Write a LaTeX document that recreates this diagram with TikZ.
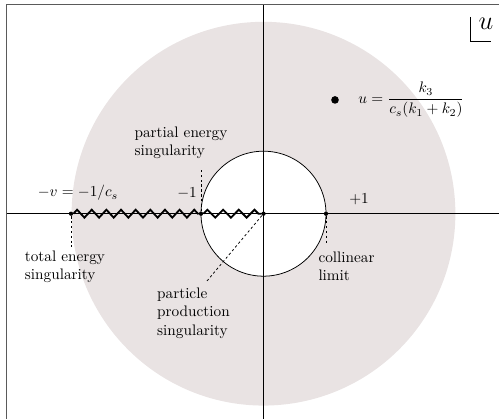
\documentclass[tikz,border=0pt]{standalone}
\usepackage{amsmath,amssymb}
\usepackage{tikz}
\usetikzlibrary{decorations.pathmorphing,positioning}
\usepackage{xcolor}
\definecolor{discgray}{HTML}{E9E3E3}
\definecolor{framegray}{HTML}{5A5A5A}

\begin{document}
\begin{tikzpicture}[
  x=1.44cm, y=1.44cm,
  frameline/.style={draw=framegray, line width=0.7pt},
  axis/.style={draw=black, line width=0.6pt},
  dot/.style={circle, fill=black, inner sep=0pt, minimum size=2.8pt},
  bigdot/.style={circle, fill=black, inner sep=0pt, minimum size=5pt},
  cut/.style={line width=1.2pt, decorate, decoration={zigzag, amplitude=2.6pt, segment length=#1}},
  guide/.style={dash pattern=on 1.6pt off 1.6pt, line width=0.5pt},
  label/.style={align=left, font=\normalsize}
]
\useasboundingbox (-4.216,-3.285) rectangle (3.768,3.419);

% frame and regions
\draw[frameline] (-4.11,-3.285) |- (3.768,3.34);
\fill[discgray] (0,0) circle (3.07);
\draw[fill=white, line width=0.5pt] (0,0) circle (1);

% axes
\draw[axis] (-4.11,0) -- (3.768,0);
\draw[axis] (0,-3.285) -- (0,3.34);

% points on the real line
\node[dot] (mv) at (-3.08,0) {};
\node[dot] (mone) at (-1,0) {};
\node[dot] (zero) at (0,0) {};
\node[dot] (pone) at (1,0) {};
\node[bigdot] (upt) at (1.144,1.82) {};

% branch cut
\draw[cut=9.6pt] (mv) -- (mone);
\draw[cut=10.3pt] (mone) -- (zero);

% labels
\node[label] (vlabel) at (-2.968,0.33) {$-v=-1/c_s$};
\node[label] (mlabel) at (-1.224,0.33) {$-1$};
\node[label] (plabel) at (1.528,0.235) {$+1$};
\node[right=3.2mm of upt] (ulabel) {$u=\dfrac{k_3}{c_s(k_1+k_2)}$};
\node[font=\LARGE] (uvar) at (3.56,3.03) {$u$};
\draw[line width=0.5pt] (3.31,3.15) |- (3.64,2.763);

\node[label] (partial) at (-1.32,1.139) {partial energy\\singularity};
\node[label] (total) at (-3.176,-0.845) {total energy\\singularity};
\node[label] (particle) at (-1.12,-1.589) {particle\\production\\singularity};
\node[label] (collinear) at (1.328,-0.845) {collinear\\limit};

% guides to the labels
\coordinate (partialend) at (-1,0.73);
\coordinate (totalend) at (-3.08,-0.533);
\coordinate (particleend) at (-0.904,-1.077);
\coordinate (collinearend) at (1,-0.5);
\draw[guide] (mone) -- (partialend);
\draw[guide] (mv) -- (totalend);
\draw[guide] (zero) -- (particleend);
\draw[guide] (pone) -- (collinearend);
\end{tikzpicture}
\end{document}
